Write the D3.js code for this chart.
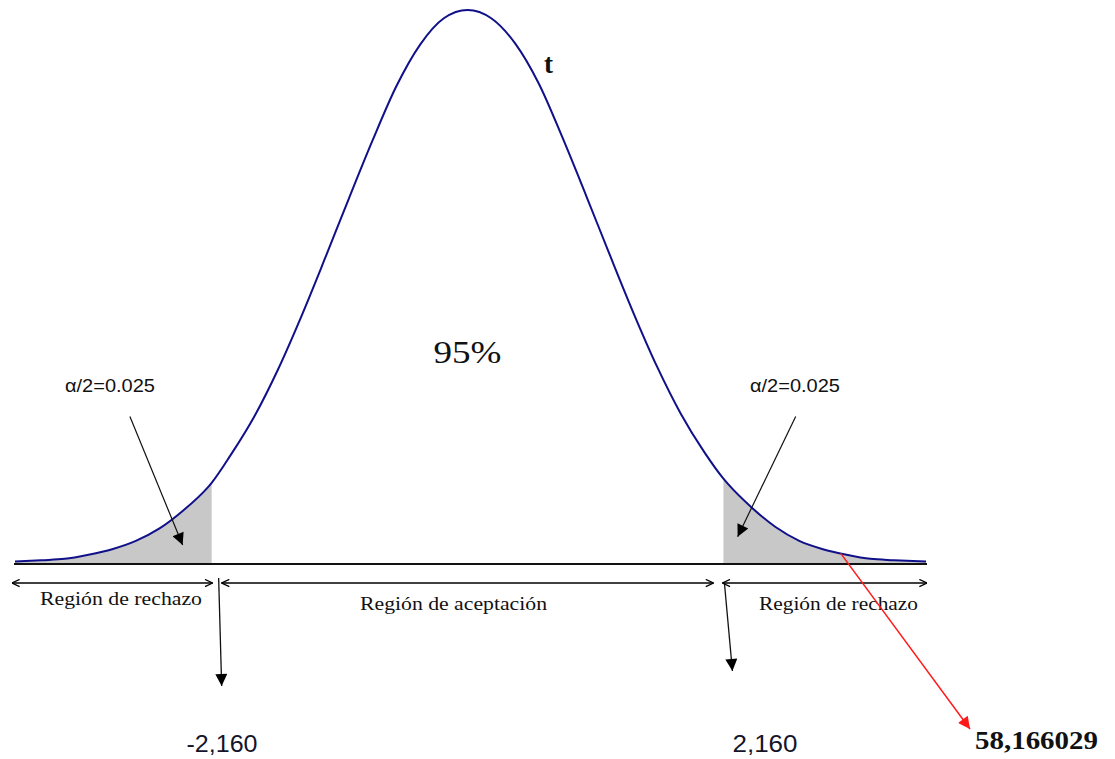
<!DOCTYPE html>
<html>
<head>
<meta charset="utf-8">
<script src="https://cdn.jsdelivr.net/npm/d3@7/dist/d3.min.js"></script>
<style>
  body { margin: 0; background: #fff; }
  svg { display: block; }
</style>
</head>
<body>
<div id="chart"></div>
<script>
// curva (t, densidad)
const curveX = [-3.82, -3.6, -3.4, -3.2, -3.0, -2.8, -2.6, -2.4, -2.2, -2.16, -2.0, -1.8, -1.6, -1.4,
                -1.2, -1.0, -0.8, -0.6, -0.4, -0.2, 0, 0.2, 0.4, 0.6, 0.8, 1.0, 1.2, 1.4, 1.6,
                1.8, 2.0, 2.16, 2.2, 2.4, 2.6, 2.8, 3.0, 3.2, 3.4, 3.6, 3.87];
const curveY = [0.001, 0.002, 0.003, 0.006, 0.010, 0.016, 0.025, 0.038, 0.054, 0.058, 0.078, 0.106, 0.140, 0.179,
                0.221, 0.264, 0.306, 0.345, 0.375, 0.394, 0.400, 0.394, 0.376, 0.347, 0.308, 0.266, 0.223, 0.181, 0.142,
                0.108, 0.080, 0.061, 0.057, 0.040, 0.026, 0.016, 0.010, 0.006, 0.003, 0.002, 0.001];

const tCrit = 2.160;
const critLabels = ["-2,160", "2,160"];
const regionLabels = ["Región de rechazo", "Región de aceptación", "Región de rechazo"];
const alphaLabel = "α/2=0.025";
const centerLabel = "95%";
const curveLabel = "t";
const tCalcLabel = "58,166029";

const width = 1115, height = 759;

const svg = d3.select("#chart").append("svg")
    .attr("width", width)
    .attr("height", height);

const x = d3.scaleLinear().domain([-3.82, 3.87]).range([15, 926]);
const y = d3.scaleLinear().domain([0, 0.40]).range([563, 10]);

const data = curveX.map((t, i) => ({ t: t, d: curveY[i] }));

// markers
const defs = svg.append("defs");
defs.append("marker")
    .attr("id", "open")
    .attr("viewBox", "0 0 10 10")
    .attr("refX", 9.5).attr("refY", 5)
    .attr("markerWidth", 9).attr("markerHeight", 9)
    .attr("markerUnits", "userSpaceOnUse")
    .attr("orient", "auto-start-reverse")
  .append("path")
    .attr("d", "M1,1 L9.5,5 L1,9")
    .attr("fill", "none")
    .attr("stroke", "#000")
    .attr("stroke-width", 1.4);

function filledMarker(id, color) {
    defs.append("marker")
        .attr("id", id)
        .attr("viewBox", "0 0 10 10")
        .attr("refX", 10).attr("refY", 5)
        .attr("markerWidth", 15).attr("markerHeight", 12)
        .attr("markerUnits", "userSpaceOnUse")
        .attr("orient", "auto")
      .append("path")
        .attr("d", "M0,0 L10,5 L0,10 Z")
        .attr("fill", color);
}
filledMarker("head", "#000");
filledMarker("headRed", "#ff1a1a");

// shaded tails
const area = d3.area()
    .x(d => x(d.t))
    .y0(y(0))
    .y1(d => y(d.d))
    .curve(d3.curveMonotoneX);

svg.append("path")
    .datum(data.filter(d => d.t <= -tCrit))
    .attr("d", area)
    .attr("fill", "#c8c8c8");

svg.append("path")
    .datum(data.filter(d => d.t >= tCrit))
    .attr("d", area)
    .attr("fill", "#c8c8c8");

// baseline
svg.append("line")
    .attr("x1", x(-3.82) - 1).attr("x2", x(3.87) + 1)
    .attr("y1", y(0) + 1).attr("y2", y(0) + 1)
    .attr("stroke", "#111")
    .attr("stroke-width", 2);

// curve
const line = d3.line()
    .x(d => x(d.t))
    .y(d => y(d.d))
    .curve(d3.curveMonotoneX);

svg.append("path")
    .datum(data)
    .attr("d", line)
    .attr("fill", "none")
    .attr("stroke", "#10108a")
    .attr("stroke-width", 2);

// region double arrows
const ay = y(0) + 20;
const spans = [
    [x(-3.82) - 3, x(-tCrit) + 1],
    [x(-tCrit) + 10, x(tCrit) - 10],
    [x(tCrit) - 1, x(3.87) + 1]
];
svg.selectAll(".span")
    .data(spans)
    .enter().append("line")
    .attr("class", "span")
    .attr("x1", d => d[0]).attr("x2", d => d[1])
    .attr("y1", ay).attr("y2", ay)
    .attr("stroke", "#000")
    .attr("stroke-width", 1.3)
    .attr("marker-start", "url(#open)")
    .attr("marker-end", "url(#open)");

const regionPos = [
    { x: 40, y: 605, w: 162 },
    { x: 360, y: 610, w: 187 },
    { x: 759, y: 610, w: 159 }
];
svg.selectAll(".region")
    .data(regionLabels)
    .enter().append("text")
    .attr("class", "region")
    .attr("x", (d, i) => regionPos[i].x)
    .attr("y", (d, i) => regionPos[i].y)
    .attr("textLength", (d, i) => regionPos[i].w)
    .attr("lengthAdjust", "spacingAndGlyphs")
    .attr("font-family", "'Liberation Serif', 'DejaVu Serif', serif")
    .attr("font-size", 18)
    .attr("fill", "#111")
    .text(d => d);

// critical value arrows
const critArrows = [
    { x1: x(-tCrit) + 7, y1: y(0) + 15, x2: x(-tCrit) + 10, y2: 686 },
    { x1: x(tCrit) + 1, y1: y(0) + 20, x2: x(tCrit) + 9, y2: 671 }
];
svg.selectAll(".crit")
    .data(critArrows)
    .enter().append("line")
    .attr("class", "crit")
    .attr("x1", d => d.x1).attr("y1", d => d.y1)
    .attr("x2", d => d.x2).attr("y2", d => d.y2)
    .attr("stroke", "#111")
    .attr("stroke-width", 1.3)
    .attr("marker-end", "url(#head)");

const critPos = [
    { x: 222, w: 71 },
    { x: 765, w: 65 }
];
svg.selectAll(".critLabel")
    .data(critLabels)
    .enter().append("text")
    .attr("class", "critLabel")
    .attr("x", (d, i) => critPos[i].x)
    .attr("y", 752)
    .attr("text-anchor", "middle")
    .attr("textLength", (d, i) => critPos[i].w)
    .attr("lengthAdjust", "spacingAndGlyphs")
    .attr("font-family", "'Liberation Sans', Arial, sans-serif")
    .attr("font-size", 24)
    .attr("fill", "#14142a")
    .text(d => d);

// alpha/2 annotations
const alphaNotes = [
    { lx: 65, from: [-2.85, 0.106], to: [-2.405, 0.013] },
    { lx: 750, from: [2.77, 0.106], to: [2.28, 0.019] }
];
svg.selectAll(".alpha")
    .data(alphaNotes)
    .enter().append("text")
    .attr("class", "alpha")
    .attr("x", d => d.lx)
    .attr("y", 392)
    .attr("textLength", 90)
    .attr("lengthAdjust", "spacingAndGlyphs")
    .attr("font-family", "'Liberation Sans Narrow', 'Liberation Sans', Arial, sans-serif")
    .attr("font-size", 19)
    .attr("fill", "#111")
    .text(alphaLabel);

svg.selectAll(".alphaArrow")
    .data(alphaNotes)
    .enter().append("line")
    .attr("class", "alphaArrow")
    .attr("x1", d => x(d.from[0])).attr("y1", d => y(d.from[1]))
    .attr("x2", d => x(d.to[0])).attr("y2", d => y(d.to[1]))
    .attr("stroke", "#111")
    .attr("stroke-width", 1.2)
    .attr("marker-end", "url(#head)");

// central labels
svg.append("text")
    .attr("x", x(0))
    .attr("y", 363)
    .attr("text-anchor", "middle")
    .attr("textLength", 68)
    .attr("lengthAdjust", "spacingAndGlyphs")
    .attr("font-family", "'Liberation Serif', 'Times New Roman', serif")
    .attr("font-size", 31)
    .attr("fill", "#111")
    .text(centerLabel);

svg.append("text")
    .attr("x", 544)
    .attr("y", 73)
    .attr("font-family", "'Liberation Serif', serif")
    .attr("font-weight", "bold")
    .attr("font-size", 27)
    .attr("fill", "#111")
    .text(curveLabel);

// calculated statistic, far off to the right
svg.append("line")
    .attr("x1", x(3.15)).attr("y1", y(0.007))
    .attr("x2", 970).attr("y2", 729)
    .attr("stroke", "#ff1a1a")
    .attr("stroke-width", 1.5)
    .attr("marker-end", "url(#headRed)");

svg.append("text")
    .attr("x", 975)
    .attr("y", 749)
    .attr("textLength", 123)
    .attr("lengthAdjust", "spacingAndGlyphs")
    .attr("font-family", "'Liberation Serif', serif")
    .attr("font-weight", "bold")
    .attr("font-size", 25)
    .attr("fill", "#111")
    .text(tCalcLabel);
</script>
</body>
</html>
